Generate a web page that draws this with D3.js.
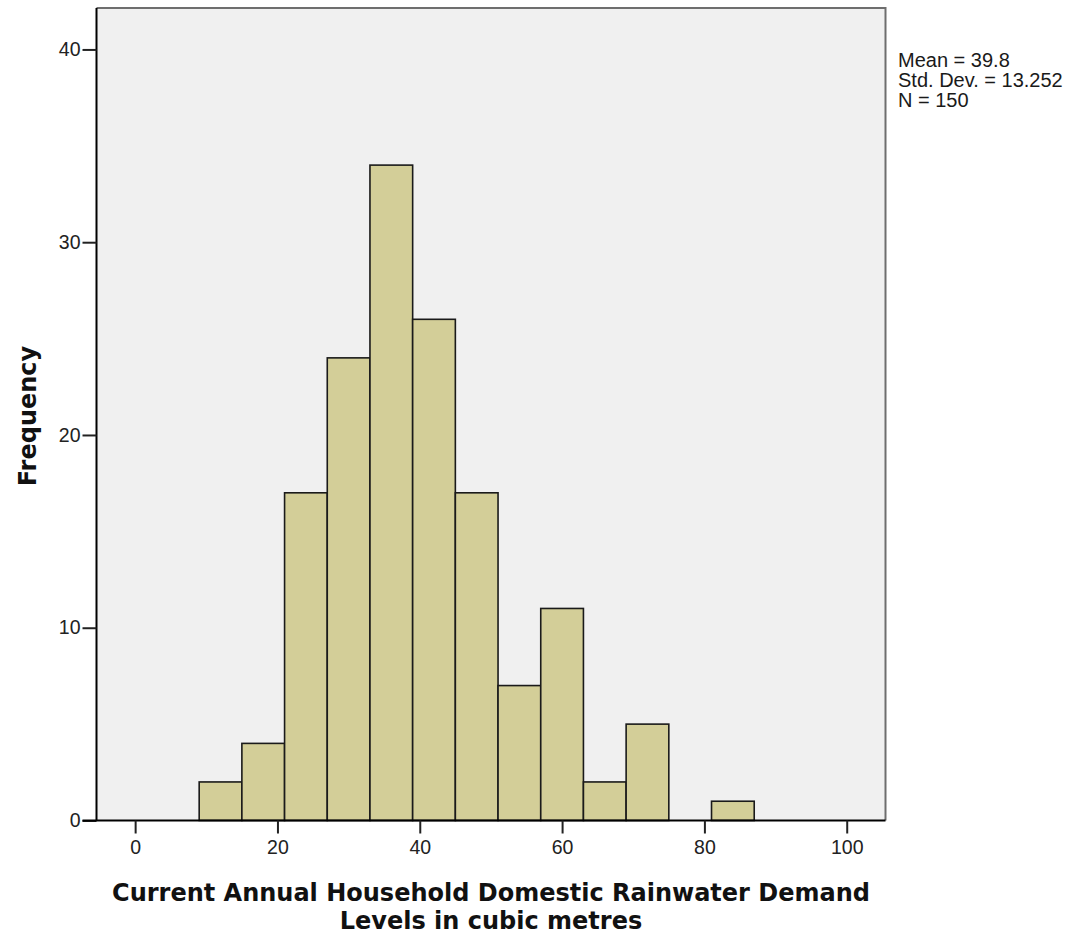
<!DOCTYPE html>
<html>
<head>
<meta charset="utf-8">
<script src="https://cdn.jsdelivr.net/npm/d3@7"></script>
<style>
  html, body { margin: 0; padding: 0; background: #ffffff; }
  svg { display: block; }
</style>
</head>
<body>
<svg id="chart" width="1087" height="939"></svg>
<script>
// Histogram bins: lower edge, upper edge (cubic metres) and frequency
const binStarts = [9, 15, 21, 27, 33, 39, 45, 51, 57, 63, 69, 75, 81];
const binEnds   = [15, 21, 27, 33, 39, 45, 51, 57, 63, 69, 75, 81, 87];
const counts    = [2, 4, 17, 24, 34, 26, 17, 7, 11, 2, 5, 0, 1];

const xTicks = [0, 20, 40, 60, 80, 100];
const yTicks = [0, 10, 20, 30, 40];
const statLines = ["Mean = 39.8", "Std. Dev. = 13.252", "N = 150"];

const xTitleLines = ["Current Annual Household Domestic Rainwater Demand", "Levels in cubic metres"];
const yTitle = "Frequency";

const svg = d3.select("#chart");

const plot = { left: 96.5, right: 885.5, top: 8, bottom: 820.5 };

const x = d3.scaleLinear().domain([-5.43, 105.45]).range([plot.left, plot.right]);
const y = d3.scaleLinear().domain([0, 42.15]).range([plot.bottom, plot.top]);

const tickFont = "'Liberation Sans', Arial, sans-serif";
const titleFont = "'DejaVu Sans', Verdana, sans-serif";

// plot background
svg.append("rect")
  .attr("x", plot.left).attr("y", plot.top)
  .attr("width", plot.right - plot.left).attr("height", plot.bottom - plot.top)
  .attr("fill", "#f0f0f0");

// frame top and right
svg.append("path")
  .attr("d", `M${plot.left},${plot.top}H${plot.right}V${plot.bottom}`)
  .attr("fill", "none").attr("stroke", "#6e6e6e").attr("stroke-width", 2);

// bars
const bins = counts.map((c, i) => ({ x0: binStarts[i], x1: binEnds[i], n: c }));
svg.append("g").selectAll("rect")
  .data(bins.filter(d => d.n > 0))
  .join("rect")
  .attr("x", d => x(d.x0))
  .attr("y", d => y(d.n))
  .attr("width", d => x(d.x1) - x(d.x0))
  .attr("height", d => y(0) - y(d.n))
  .attr("fill", "#d3ce98")
  .attr("stroke", "#1a1a1a")
  .attr("stroke-width", 1.6);

// y axis
const yAxis = d3.axisLeft(y).tickValues(yTicks).tickSize(14).tickPadding(2).tickSizeOuter(0);
const gy = svg.append("g").attr("transform", `translate(${plot.left},0)`).call(yAxis);
gy.select(".domain").attr("stroke", "#000").attr("stroke-width", 2)
  .attr("d", `M0,${plot.top}V${plot.bottom}`);
gy.selectAll(".tick line").attr("stroke", "#222").attr("stroke-width", 2);
gy.selectAll(".tick text")
  .attr("font-family", tickFont)
  .attr("font-size", 19.5).attr("fill", "#222");

// x axis
const xAxis = d3.axisBottom(x).tickValues(xTicks).tickSize(13).tickPadding(7).tickSizeOuter(0);
const gx = svg.append("g").attr("transform", `translate(0,${plot.bottom})`).call(xAxis);
gx.select(".domain").attr("stroke", "#000").attr("stroke-width", 2)
  .attr("d", `M${plot.left - 14},0H${plot.right}`);
gx.selectAll(".tick line").attr("stroke", "#222").attr("stroke-width", 2);
gx.selectAll(".tick text")
  .attr("font-family", tickFont)
  .attr("font-size", 19.5).attr("fill", "#222");

// axis titles
const xt = svg.append("text")
  .attr("x", 491).attr("y", 901)
  .attr("text-anchor", "middle")
  .attr("font-family", titleFont)
  .attr("font-weight", "bold").attr("font-size", 24).attr("fill", "#111");
xTitleLines.forEach((t, i) => {
  xt.append("tspan").attr("x", 491).attr("dy", i === 0 ? 0 : 28).text(t);
});

svg.append("text")
  .attr("transform", "translate(36,416) rotate(-90)")
  .attr("text-anchor", "middle")
  .attr("font-family", titleFont)
  .attr("font-weight", "bold").attr("font-size", 24).attr("fill", "#111")
  .text(yTitle);

// summary statistics
svg.append("g").selectAll("text")
  .data(statLines)
  .join("text")
  .attr("x", 898)
  .attr("y", (d, i) => 67 + i * 20)
  .attr("font-family", tickFont)
  .attr("font-size", 20).attr("fill", "#1a1a1a")
  .text(d => d);
</script>
</body>
</html>
